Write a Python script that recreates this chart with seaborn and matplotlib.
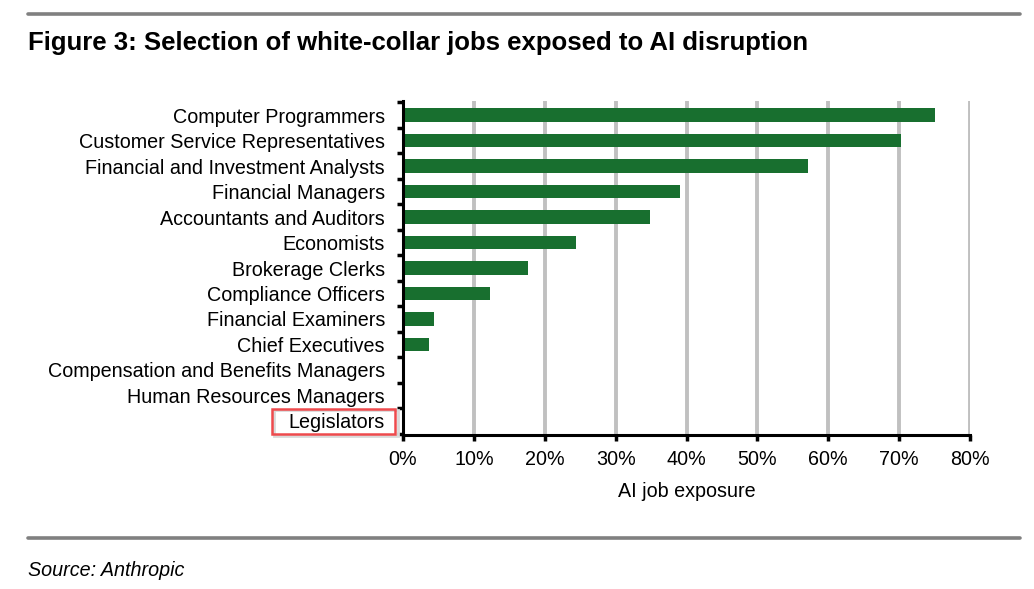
import matplotlib
matplotlib.use("Agg")
import matplotlib.pyplot as plt
import seaborn as sns
import pandas as pd
import numpy as np
from matplotlib.patches import Rectangle
from matplotlib.lines import Line2D
from matplotlib.ticker import FixedLocator, PercentFormatter

jobs = [
    "Computer Programmers",
    "Customer Service Representatives",
    "Financial and Investment Analysts",
    "Financial Managers",
    "Accountants and Auditors",
    "Economists",
    "Brokerage Clerks",
    "Compliance Officers",
    "Financial Examiners",
    "Chief Executives",
    "Compensation and Benefits Managers",
    "Human Resources Managers",
    "Legislators",
]
exposure = [75.0, 70.2, 57.2, 39.1, 34.9, 24.4, 17.6, 12.3, 4.4, 3.6, 0.0, 0.0, 0.0]
x_ticks = [0, 10, 20, 30, 40, 50, 60, 70, 80]

title = "Figure 3: Selection of white-collar jobs exposed to AI disruption"
x_label = "AI job exposure"
source = "Source: Anthropic"

sns.set_theme(style="white")
plt.rcParams["font.family"] = ["Liberation Sans", "DejaVu Sans"]

df = pd.DataFrame({"job": jobs, "exposure": exposure})

fig = plt.figure(figsize=(10.34, 5.89), dpi=100)
ax = fig.add_axes([403/1034, 1-435/589, (970-403)/1034, (435-101)/589])

sns.barplot(data=df, y="job", x="exposure", orient="h", color="#186F2F",
            saturation=1, width=0.52, linewidth=0, ax=ax, zorder=3)

ax.set_xlim(0, 80)
ax.set_ylim(len(jobs) - 0.45, -0.55)
ax.xaxis.set_major_locator(FixedLocator(x_ticks))
ax.xaxis.set_major_formatter(PercentFormatter(decimals=0))
ax.grid(False)
for v in x_ticks[1:]:
    ax.axvline(v, color="#C0C0C0", lw=2.8, zorder=1)

for s in ["top", "right"]:
    ax.spines[s].set_visible(False)
for s in ["left", "bottom"]:
    ax.spines[s].set_color("black")
    ax.spines[s].set_linewidth(2.2)
    ax.spines[s].set_zorder(5)

fs = 14.2
ax.tick_params(axis="y", which="major", left=True, length=0, pad=13, labelsize=fs, labelcolor="black")
ax.yaxis.set_minor_locator(FixedLocator(np.arange(-0.5, len(jobs), 1.0)))
ax.tick_params(axis="y", which="minor", left=True, length=4, width=2.5, color="black", direction="out")
ax.tick_params(axis="x", which="major", bottom=True, length=4, width=2.5, color="black",
               direction="out", pad=7, labelsize=fs, labelcolor="black")
ax.set_ylabel("")
ax.set_xlabel(x_label, fontsize=fs, color="black", labelpad=9)

# header / footer rules
fig.add_artist(Line2D([28/1034, 1020/1034], [1-14/589, 1-14/589], color="#808080", lw=2.6))
fig.add_artist(Line2D([28/1034, 1020/1034], [1-538/589, 1-538/589], color="#808080", lw=2.6))
fig.text(28/1034, 1-43/589, title, fontsize=18.5, fontweight="bold", color="black",
         ha="left", va="center")
fig.text(28/1034, 1-570/589, source, fontsize=fs, style="italic", color="black",
         ha="left", va="center")

# highlight box around the Legislators label
fig.add_artist(Rectangle((274/1034, 1-436/589), (398-274)/1034, (436-410)/589,
                         transform=fig.transFigure, fill=False,
                         edgecolor="#D9D9D9", lw=2.0, zorder=4))
fig.add_artist(Rectangle((272/1034, 1-434/589), (395-272)/1034, (434-409)/589,
                         transform=fig.transFigure, fill=False,
                         edgecolor="#EE4A4D", lw=1.8, zorder=5))

fig.savefig("out.png", dpi=100, facecolor="white")
